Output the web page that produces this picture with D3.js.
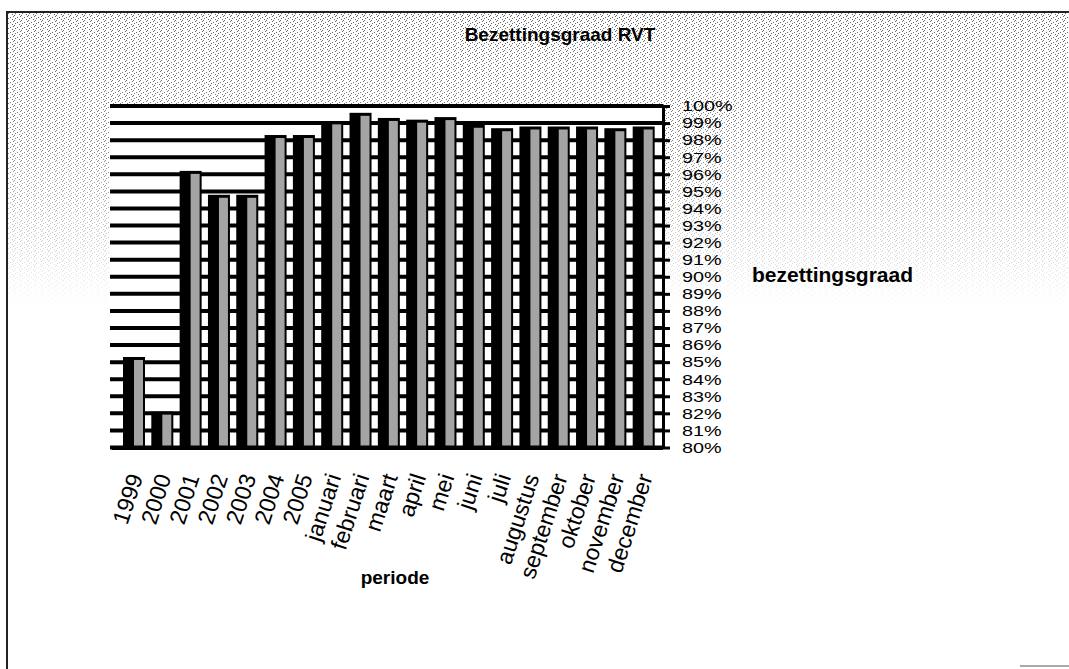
<!DOCTYPE html>
<html>
<head>
<meta charset="utf-8">
<script src="https://cdn.jsdelivr.net/npm/d3@7"></script>
<style>
  body { margin: 0; background: #fff; }
  svg { display: block; font-family: "Liberation Sans", Arial, sans-serif; }
</style>
</head>
<body>
<div id="chart"></div>
<script>
// categories + values
const periods = ['1999', '2000', '2001', '2002', '2003', '2004', '2005',
  'januari', 'februari', 'maart', 'april', 'mei', 'juni', 'juli',
  'augustus', 'september', 'oktober', 'november', 'december'];
const occupancy = [85.3, 82.1, 96.2, 94.8, 94.8, 98.3, 98.3,
  99.1, 99.6, 99.3, 99.2, 99.35, 98.9, 98.7,
  98.8, 98.8, 98.8, 98.7, 98.8];
const yTicks = d3.range(80, 101, 1);

const width = 1069;
const height = 669;

const svg = d3.select('#chart')
  .append('svg')
  .attr('width', width)
  .attr('height', height);

const defs = svg.append('defs');

/* scanner speckle */
const speck = defs.append('pattern')
  .attr('id', 'speck')
  .attr('width', 7)
  .attr('height', 5)
  .attr('patternUnits', 'userSpaceOnUse');
[[0, 0], [3, 2], [5, 4], [1, 3], [6, 1]].forEach(([px, py]) => {
  speck.append('rect').attr('x', px).attr('y', py)
    .attr('width', 1).attr('height', 1).attr('fill', '#666');
});
const fade = defs.append('linearGradient')
  .attr('id', 'fade').attr('x1', 0).attr('y1', 0).attr('x2', 0).attr('y2', 1);
fade.append('stop').attr('offset', '0%').attr('stop-color', '#fff').attr('stop-opacity', 1);
fade.append('stop').attr('offset', '20%').attr('stop-color', '#fff').attr('stop-opacity', 0.8);
fade.append('stop').attr('offset', '45%').attr('stop-color', '#fff').attr('stop-opacity', 0);
defs.append('mask').attr('id', 'fadeMask')
  .append('rect').attr('x', 0).attr('y', 12).attr('width', width).attr('height', height - 12)
  .attr('fill', 'url(#fade)');

svg.append('rect')
  .attr('x', 8).attr('y', 13).attr('width', width - 8).attr('height', height - 13)
  .attr('fill', 'url(#speck)')
  .attr('mask', 'url(#fadeMask)');

/* frame */
svg.append('path')
  .attr('d', `M7,${height} V12 H${width}`)
  .attr('fill', 'none')
  .attr('stroke', '#222')
  .attr('stroke-width', 2);
svg.append('line')
  .attr('x1', 1020).attr('x2', width).attr('y1', 666).attr('y2', 666)
  .attr('stroke', '#aaa').attr('stroke-width', 2);

/* Scale */
const xScale = d3.scaleBand()
  .domain(periods)
  .range([117, 655]);

const yScale = d3.scaleLinear()
  .domain([80, 100])
  .range([447.5, 106]);

const wallLeft = 110;
const wallRight = 663;

// back wall
svg.append('rect')
  .attr('x', wallLeft).attr('y', yScale(100))
  .attr('width', wallRight - wallLeft).attr('height', yScale(80) - yScale(100))
  .attr('fill', '#fff');

/* gridlines */
svg.append('g')
  .attr('class', 'grid')
  .selectAll('line')
  .data(yTicks)
  .enter()
  .append('line')
  .attr('x1', wallLeft)
  .attr('x2', wallRight)
  .attr('y1', (d) => yScale(d))
  .attr('y2', (d) => yScale(d))
  .attr('stroke', '#000')
  .attr('stroke-width', 4);

/* bars: black front, grey side */
const bars = svg.append('g').attr('class', 'bars')
  .selectAll('g')
  .data(periods.map((p, i) => ({ name: p, value: occupancy[i] })))
  .enter()
  .append('g');

bars.append('rect')
  .attr('x', (d) => xScale(d.name) + 6)
  .attr('y', (d) => yScale(d.value))
  .attr('width', 22)
  .attr('height', (d) => yScale(80) - yScale(d.value))
  .attr('fill', '#000');

bars.append('rect')
  .attr('x', (d) => xScale(d.name) + 17)
  .attr('y', (d) => yScale(d.value) + 3)
  .attr('width', 9)
  .attr('height', (d) => yScale(80) - yScale(d.value) - 5)
  .attr('fill', '#a4a4a4');

// floor edge
svg.append('line')
  .attr('x1', wallLeft + 2).attr('x2', wallRight)
  .attr('y1', yScale(80) + 1).attr('y2', yScale(80) + 1)
  .attr('stroke', '#000').attr('stroke-width', 3);

/* Axis on the right */
const yAxis = d3.axisRight(yScale)
  .tickValues(yTicks)
  .tickFormat((d) => d + '%')
  .tickSize(7)
  .tickSizeOuter(0)
  .tickPadding(12);

const ax = svg.append('g')
  .attr('class', 'y axis')
  .attr('transform', `translate(${wallRight}, 0)`)
  .call(yAxis);
ax.select('.domain').attr('stroke', '#000').attr('stroke-width', 3);
ax.selectAll('.tick line').attr('stroke', '#000').attr('stroke-width', 3);
ax.selectAll('.tick text')
  .attr('fill', '#000')
  .style('font-size', '15px')
  .style('font-family', '"Liberation Sans", Arial, sans-serif')
  .each(function () {
    // the scan's labels are wide; stretch them instead of growing the font
    const w = this.getComputedTextLength();
    d3.select(this).attr('textLength', w * 1.32).attr('lengthAdjust', 'spacingAndGlyphs');
  });

/* category labels */
svg.append('g')
  .attr('class', 'x labels')
  .selectAll('text')
  .data(periods)
  .enter()
  .append('text')
  .attr('transform', (d) => `translate(${xScale(d) + xScale.bandwidth() / 2 + 12}, 477) rotate(-72)`)
  .attr('text-anchor', 'end')
  .style('font-size', '23px')
  .attr('fill', '#000')
  .text((d) => d);

/* titles */
svg.append('text')
  .attr('x', 560).attr('y', 41)
  .attr('text-anchor', 'middle')
  .style('font-size', '19px')
  .style('font-weight', 'bold')
  .text('Bezettingsgraad RVT');

svg.append('text')
  .attr('x', 752).attr('y', 282)
  .style('font-size', '21px')
  .style('font-weight', 'bold')
  .text('bezettingsgraad');

svg.append('text')
  .attr('x', 395).attr('y', 584)
  .attr('text-anchor', 'middle')
  .style('font-size', '19px')
  .style('font-weight', 'bold')
  .text('periode');
</script>
</body>
</html>
